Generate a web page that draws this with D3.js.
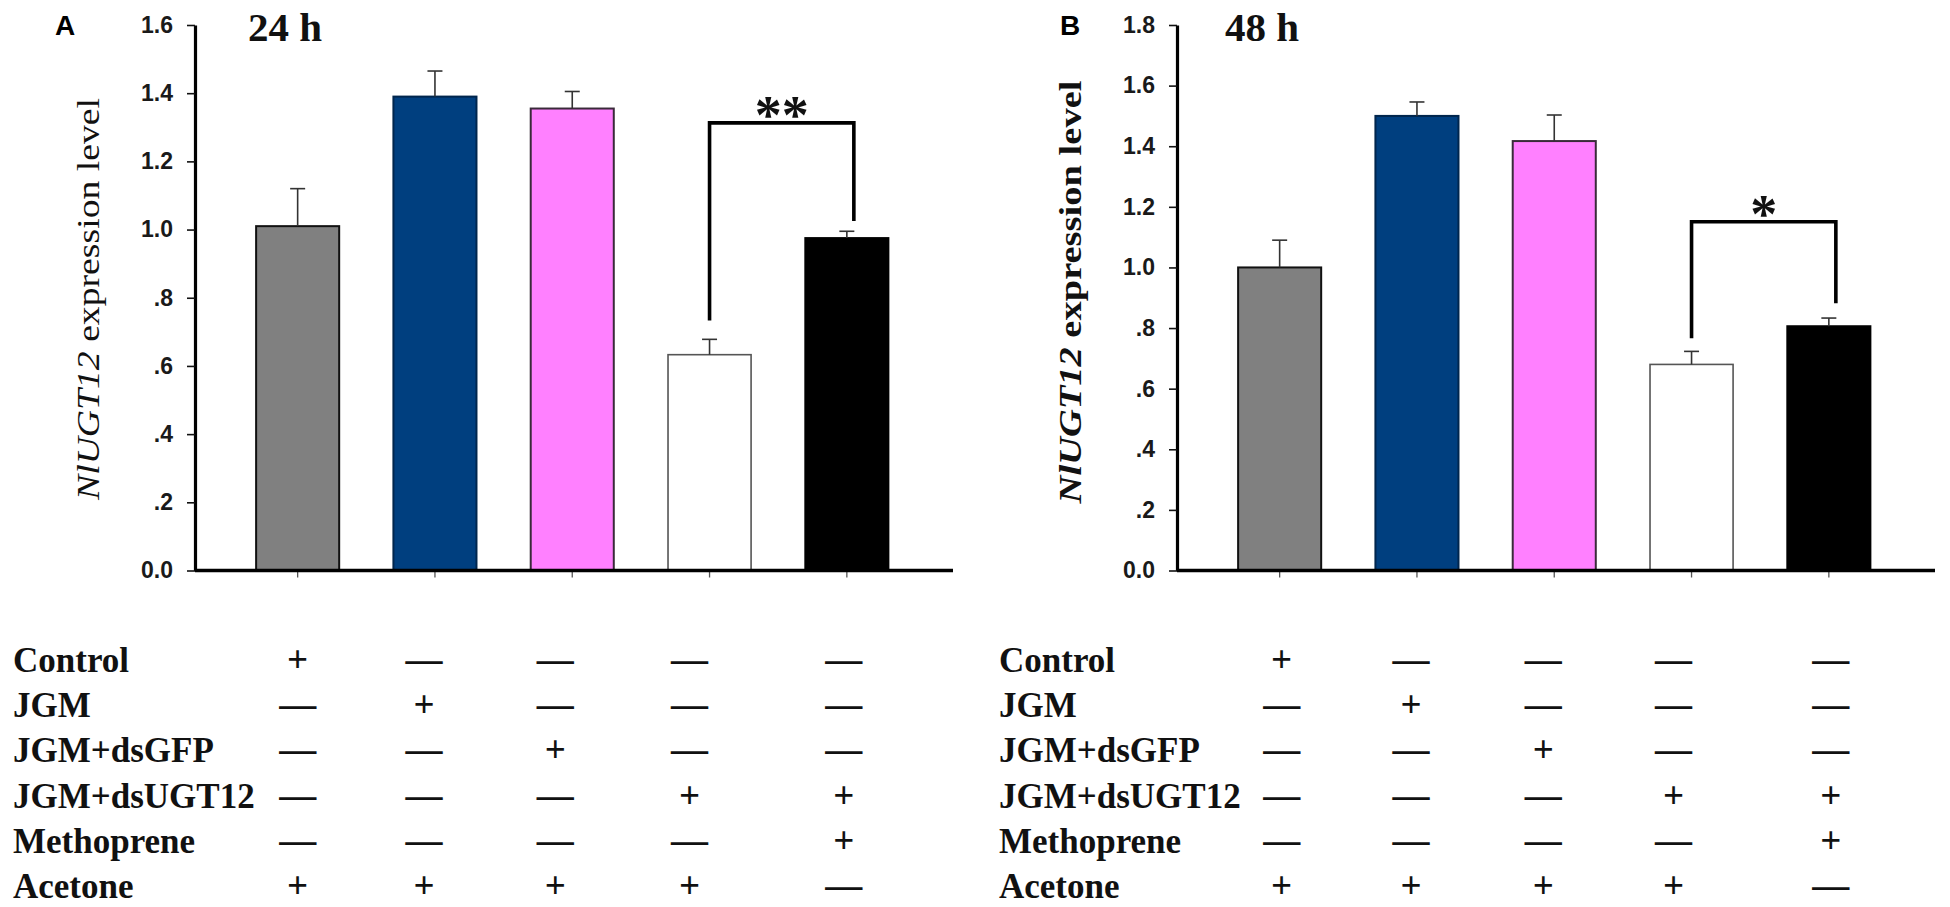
<!DOCTYPE html>
<html>
<head>
<meta charset="utf-8">
<script src="https://cdn.jsdelivr.net/npm/d3@7"></script>
<style>
body { margin: 0; background: #fff; }
</style>
</head>
<body>
<div id="chart"></div>
<script>
// row labels of the treatment table
var rowLabels = ["Control", "JGM", "JGM+dsGFP", "JGM+dsUGT12", "Methoprene", "Acetone"];
// treatment matrix (rows x bars)
var treatments = [
	["+", "—", "—", "—", "—"],
	["—", "+", "—", "—", "—"],
	["—", "—", "+", "—", "—"],
	["—", "—", "—", "+", "+"],
	["—", "—", "—", "—", "+"],
	["+", "+", "+", "+", "—"]
];
var barIds = [0, 1, 2, 3, 4];

// 24 h
var mean24 = [1.01, 1.39, 1.355, 0.633, 0.975];
var sem24 = [0.11, 0.075, 0.05, 0.045, 0.02];
var ticks24 = [0, 0.2, 0.4, 0.6, 0.8, 1.0, 1.2, 1.4, 1.6];
var sig24 = {from: 3, to: 4, top: 1.313, leftEnd: 0.733, rightEnd: 1.025, label: "**"};

// 48 h
var mean48 = [1.0, 1.50, 1.417, 0.68, 0.806];
var sem48 = [0.09, 0.046, 0.086, 0.043, 0.027];
var ticks48 = [0, 0.2, 0.4, 0.6, 0.8, 1.0, 1.2, 1.4, 1.6, 1.8];
var sig48 = {from: 3, to: 4, top: 1.151, leftEnd: 0.766, rightEnd: 0.882, label: "*"};

var barFill = ["#808080", "#003f7f", "#ff80ff", "#ffffff", "#000000"];
var barStroke = ["#111111", "#00264d", "#3a2a3a", "#555555", "#000000"];

var svg = d3.select("#chart").append("svg")
	.attr("width", 1950)
	.attr("height", 907);

var serif = "'Liberation Serif', 'Times New Roman', serif";
var sans = "'Liberation Sans', Arial, sans-serif";

function tickFmt(d){
	if (d === 0) return "0.0";
	var s = d3.format(".1f")(d);
	return s.replace(/^0\./, ".");
}

function drawPanel(p){
	var g = svg.append("g");
	var y = d3.scaleLinear().domain([0, p.yMax]).range([570.5, 25]);
	var x = d3.scaleBand().domain(barIds)
		.range([p.axisX + 34, p.axisX + 34 + 686.5])
		.paddingInner(0.395).paddingOuter(0.1975);
	var cx = function(i){ return x(i) + x.bandwidth() / 2; };

	// bars
	g.selectAll("rect.bar").data(p.mean).enter().append("rect")
		.attr("class", "bar")
		.attr("x", function(d, i){ return x(i); })
		.attr("y", function(d){ return y(d); })
		.attr("width", x.bandwidth())
		.attr("height", function(d){ return y(0) - y(d); })
		.attr("fill", function(d, i){ return barFill[i]; })
		.attr("stroke", function(d, i){ return barStroke[i]; })
		.attr("stroke-width", function(d, i){ return i == 3 ? 1.6 : 2; });

	// error bars (upper only)
	var err = g.selectAll("g.err").data(p.mean).enter().append("g").attr("class", "err");
	err.append("line")
		.attr("x1", function(d, i){ return cx(i); })
		.attr("x2", function(d, i){ return cx(i); })
		.attr("y1", function(d){ return y(d); })
		.attr("y2", function(d, i){ return y(d + p.sem[i]); });
	err.append("line")
		.attr("x1", function(d, i){ return cx(i) - 7.5; })
		.attr("x2", function(d, i){ return cx(i) + 7.5; })
		.attr("y1", function(d, i){ return y(d + p.sem[i]); })
		.attr("y2", function(d, i){ return y(d + p.sem[i]); });
	err.selectAll("line").attr("stroke", "#333").attr("stroke-width", 1.6);

	// x ticks under the axis
	var xAxis = g.append("g")
		.attr("transform", "translate(0," + y(0) + ")")
		.call(d3.axisBottom(x).tickSize(7).tickFormat(""));
	xAxis.select(".domain").remove();
	xAxis.selectAll(".tick line").attr("stroke", "#555").attr("stroke-width", 1.3);

	// x baseline
	g.append("line")
		.attr("x1", p.axisX).attr("x2", p.axisX + 758)
		.attr("y1", y(0)).attr("y2", y(0))
		.attr("stroke", "#000").attr("stroke-width", 3.5);

	// y axis
	var yAxis = g.append("g")
		.attr("transform", "translate(" + p.axisX + ",0)")
		.call(d3.axisLeft(y).tickValues(p.ticks).tickSize(8).tickSizeOuter(0)
			.tickPadding(14).tickFormat(tickFmt));
	yAxis.select(".domain").attr("stroke", "#000").attr("stroke-width", 3.2);
	yAxis.selectAll(".tick line").attr("stroke", "#111").attr("stroke-width", 1.6);
	yAxis.selectAll(".tick text")
		.attr("font-family", sans)
		.attr("font-weight", "bold")
		.attr("font-size", 23)
		.attr("fill", "#1a1a1a");

	// y label
	var yl = g.append("text")
		.attr("font-family", serif)
		.attr("font-size", 31)
		.attr("font-weight", p.labelBold ? "bold" : "normal")
		.attr("fill", "#111")
		.attr("text-anchor", "middle");
	yl.append("tspan").attr("font-style", "italic").text("NlUGT12");
	yl.append("tspan").text(" expression level");
	var natural = yl.node().getComputedTextLength();
	yl.attr("transform", "translate(" + (p.axisX - 96) + "," + p.labelCY + ") rotate(-90) scale(" + (p.labelLen / natural) + ",1)");

	// title
	g.append("text")
		.attr("x", p.axisX + p.titleDx).attr("y", 41)
		.attr("font-family", serif).attr("font-weight", "bold")
		.attr("font-size", 41).attr("fill", "#111")
		.text(p.title);

	// panel letter
	g.append("text")
		.attr("x", p.letterX).attr("y", 35)
		.attr("font-family", sans).attr("font-weight", "bold")
		.attr("font-size", 28).attr("fill", "#000")
		.text(p.letter);

	// significance bracket
	var s = p.sig;
	var xl = cx(s.from), xr = cx(s.to) + 7;
	g.append("path")
		.attr("d", "M" + xl + "," + y(s.leftEnd) + "V" + y(s.top) + "H" + xr + "V" + y(s.rightEnd))
		.attr("fill", "none").attr("stroke", "#000").attr("stroke-width", 3.6);
	g.append("text")
		.attr("x", (xl + xr) / 2).attr("y", y(s.top) + 10)
		.attr("text-anchor", "middle")
		.attr("font-family", serif).attr("font-weight", "bold")
		.attr("font-size", 54).attr("fill", "#111")
		.text(s.label);

	// treatment table
	var rows = g.selectAll("g.row").data(treatments).enter().append("g")
		.attr("class", "row")
		.attr("transform", function(d, r){ return "translate(0," + (672 + 45.2 * r) + ")"; });
	rows.append("text")
		.attr("x", p.tableX)
		.attr("font-family", serif).attr("font-weight", "bold")
		.attr("font-size", 35).attr("fill", "#111")
		.text(function(d, r){ return rowLabels[r]; });
	rows.selectAll("text.sym").data(function(d){ return d; }).enter().append("text")
		.attr("class", "sym")
		.attr("x", function(d, i){ return cx(i) + p.colNudge[i]; })
		.attr("text-anchor", "middle")
		.attr("font-family", serif).attr("font-weight", "bold")
		.attr("font-size", 37).attr("fill", "#111")
		.text(function(d){ return d; });
}

drawPanel({
	letter: "A", letterX: 55, title: "24 h", titleDx: 53,
	axisX: 195, yMax: 1.6, ticks: ticks24,
	mean: mean24, sem: sem24, sig: sig24,
	labelBold: false, labelCY: 299, labelLen: 402,
	tableX: 13, colNudge: [0, -11, -17, -20, -3]
});
drawPanel({
	letter: "B", letterX: 1060, title: "48 h", titleDx: 48,
	axisX: 1177, yMax: 1.8, ticks: ticks48,
	mean: mean48, sem: sem48, sig: sig48,
	labelBold: true, labelCY: 292, labelLen: 423,
	tableX: 999, colNudge: [2, -6, -11, -18, 2]
});
</script>
</body>
</html>
